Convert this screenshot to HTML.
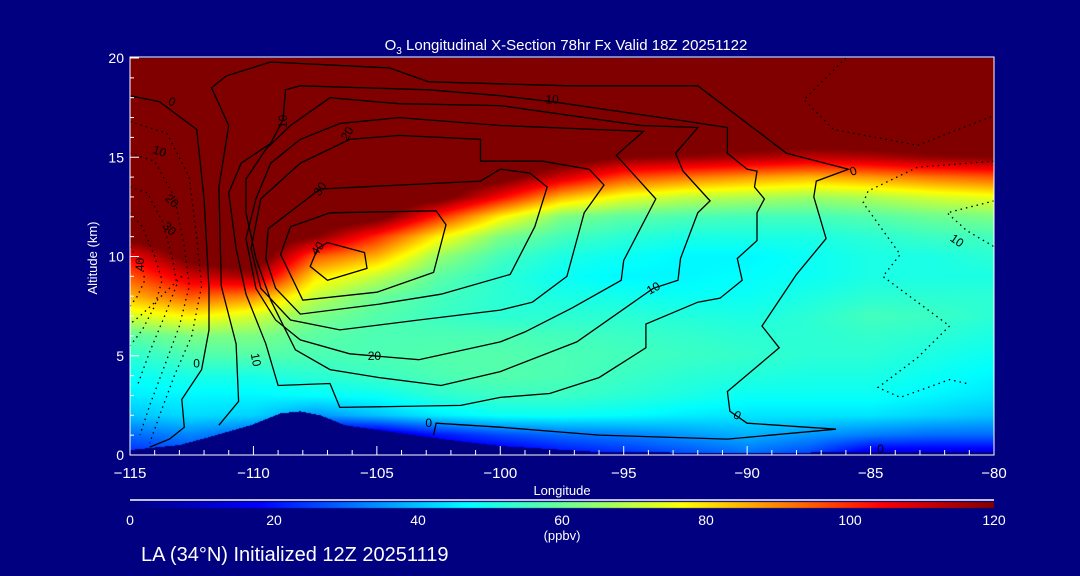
<!DOCTYPE html>
<html><head><meta charset="utf-8"><style>
html,body{margin:0;padding:0;background:#000080;}
#wrap{position:relative;width:1080px;height:576px;overflow:hidden;background:#000080;font-family:"Liberation Sans",sans-serif;color:#fff;}
canvas{position:absolute;left:0;top:0;}
svg{position:absolute;left:0;top:0;}
</style></head><body>
<div id="wrap">
<canvas id="field" width="1080" height="576"></canvas>
<svg id="ov" width="1080" height="576"></svg>
</div>
<script>
// ---- data ----
const lons = [-115,-112.5,-110,-107.5,-105,-102.5,-100,-97.5,-95,-92.5,-90,-87.5,-85,-82.5,-80];
const alts = [0,1,2,3,4,5,6,7,8,9,10,11,12,13,14,15,16,17,18,19,20];
const o3_0  = [22,25,15,10,10,10,12,18,22,26,30,25,12,12,12];
const o3_1  = [30,33,28,10,10,20,26,30,32,35,38,35,32,30,30];
const o3_2  = [40,43,42,35,40,45,48,48,47,45,44,44,44,42,40];
const o3_3  = [45,46,46,47,48,52,54,54,52,50,48,48,48,46,44];
const o3_4  = [48,50,50,52,54,56,57,56,54,52,51,50,50,48,46];
const o3_5  = [52,56,57,56,56,57,57,56,55,54,53,52,52,50,48];
const o3_6  = [58,62,62,58,56,56,56,55,54,53,52,52,53,52,50];
const o3_7  = [72,78,72,62,57,54,52,52,52,51,50,52,55,54,52];
const o3_8  = [85,95,90,70,60,55,52,50,49,48,48,50,52,52,52];
const o3_9  = [95,110,115,80,70,58,52,48,46,46,47,48,50,50,50];
const o3_10 = [105,125,130,95,85,65,55,50,48,46,46,48,50,50,52];
const o3_11 = [125,130,130,120,100,78,62,55,52,50,50,50,52,54,55];
const o3_12 = [130,130,130,130,125,100,78,62,58,56,55,55,57,60,62];
const o3_13 = [130,130,130,130,130,125,105,85,75,70,68,66,68,72,75];
const o3_14 = [130,130,130,130,130,130,125,110,97,92,88,85,88,92,95];
const o3_15 = [130,130,130,130,130,130,130,128,120,118,115,112,114,118,120];
const o3_16 = [130,130,130,130,130,130,130,130,130,130,130,130,130,130,130];
const o3_17 = [130,130,130,130,130,130,130,130,130,130,130,130,130,130,130];
const o3_18 = [130,130,130,130,130,130,130,130,130,130,130,130,130,130,130];
const o3_19 = [130,130,130,130,130,130,130,130,130,130,130,130,130,130,130];
const o3_20 = [130,130,130,130,130,130,130,130,130,130,130,130,130,130,130];
const o3 = [o3_0,o3_1,o3_2,o3_3,o3_4,o3_5,o3_6,o3_7,o3_8,o3_9,o3_10,o3_11,o3_12,o3_13,o3_14,o3_15,o3_16,o3_17,o3_18,o3_19,o3_20];

const terrainLon = [-115,-113,-111.8,-110.1,-108.9,-108.1,-107.3,-106.3,-104.1,-102,-100,-96,-90,-85,-80];
const terrainAlt = [0.25,0.5,0.9,1.5,2.1,2.2,2.0,1.5,1.1,0.75,0.45,0.15,0.1,0.15,0.15];

const xTicks = [-115,-110,-105,-100,-95,-90,-85,-80];
const xTickLabels = ["\u2212115","\u2212110","\u2212105","\u2212100","\u221295","\u221290","\u221285","\u221280"];
const yTicks = [0,5,10,15,20];
const cbTicks = [0,20,40,60,80,100,120];

// solid contours [lon,alt]
const cA  = [[-115,18.1],[-113.8,17.8],[-112.3,16.4],[-112,12.9],[-111.8,8.4],[-111.8,6.3],[-112.1,4.3],[-112.9,2.8],[-112.8,1.4],[-113.4,0.8],[-114.2,0.4]];
const cB  = [[-111.4,1.5],[-110.6,2.7],[-110.7,5.6],[-111.3,8.5],[-111.4,13.5],[-111,16.6],[-111.7,18.5],[-111.1,19.1],[-109.3,19.8],[-104.5,19.5],[-102.9,18.8],[-97.2,18.6],[-92.0,18.6],[-88.4,15.2],[-85.9,14.4],[-87.2,13.8],[-87.3,13.0],[-86.8,10.9],[-88,9.1],[-89.4,6.5],[-88.7,5.4],[-90.8,3.2],[-90.7,2.2],[-90,1.6],[-86.4,1.3],[-90.8,0.8],[-96,1.0],[-100,1.4],[-102.6,1.6],[-102.7,1.0]];
const cZ1 = [[-100,18.1],[-97.9,17.8],[-92.4,16.8],[-90.8,16.5],[-90.8,15.2],[-90,14.4],[-89.6,14.3],[-89.7,13.5],[-89.3,12.9],[-89.6,12.2],[-89.6,10.8],[-90.4,9.9],[-90.2,8.8],[-91.1,7.9],[-92,7.7],[-94.1,6.6],[-94.1,5.4],[-96,3.9],[-98,3.1],[-100,2.9],[-101.6,2.5],[-106.5,2.4],[-106.9,3.6],[-109,3.5],[-109.5,5.6],[-110.3,8.1],[-110.7,10.4],[-111,13.2],[-110.5,14.7],[-109.3,15.7],[-108.8,16.9],[-108.7,18.4],[-108.1,18.6],[-102.9,18.4],[-100,18.1]];
const cZ2 = [[-100,4.2],[-96.9,5.7],[-93.8,8.4],[-92.8,8.8],[-92.7,9.9],[-92.0,12.2],[-91.5,12.8],[-92.6,14.3],[-92.9,15.2],[-92.0,16.5],[-94.3,16.6],[-100,17.6],[-104.1,17.7],[-106.9,18.0],[-108.5,16.6],[-109.5,15.4],[-110.3,13.9],[-110.3,12.2],[-109.9,9.9],[-109.3,7.8],[-108.7,6.3],[-108.3,5.3],[-106.9,4.3],[-104.9,3.9],[-102.4,3.5],[-100,4.2]];
const cZ3 = [[-100,5.7],[-99,6.2],[-97.1,7.4],[-95.1,8.8],[-95.0,9.8],[-93.7,12.9],[-95.3,15.1],[-94.2,16.3],[-100,16.6],[-104.1,17.0],[-106.5,16.7],[-108.1,15.9],[-109.3,14.7],[-109.9,12.9],[-110.3,10.9],[-109.9,8.4],[-109.1,6.8],[-108.1,5.8],[-106.1,5.1],[-103.3,4.8],[-100,5.7]];
const cR25 = [[-100,7.3],[-98.7,7.7],[-97.3,9.0],[-96.6,12.2],[-95.8,13.6],[-96.4,14.4],[-98.3,14.8],[-100.8,14.8],[-100.8,15.9],[-104.1,16.1],[-106.1,15.9],[-108.1,14.7],[-109.7,12.9],[-110.1,10.4],[-109.7,8.4],[-108.5,6.8],[-106.5,6.3],[-103.3,6.8],[-100,7.3]];
const cR30 = [[-109.5,9.9],[-109.4,11.4],[-107.3,13.4],[-100.8,13.8],[-100,14.4],[-98.8,14.2],[-98.1,13.5],[-98.6,11.5],[-99.6,9.1],[-102.4,8.1],[-104.9,7.6],[-108.1,7.1],[-109.1,8.4],[-109.5,9.9]];
const cR35 = [[-108.9,10.1],[-108.5,11.5],[-106.9,12.2],[-102.6,12.3],[-102.2,11.6],[-102.7,9.2],[-105,8.2],[-108,7.8],[-108.9,10.1]];
const cR40 = [[-107.0,10.7],[-105.5,10.2],[-105.4,9.4],[-107.0,8.8],[-107.7,9.5],[-107.4,10.4],[-107.0,10.7]];
const solidContours = [cA,cB,cZ1,cZ2,cZ3,cR25,cR30,cR35,cR40];

// dotted (negative) contours
const dD1 = [[-86.0,20],[-87.7,17.9],[-86.5,16.4],[-83.1,15.6],[-80.0,17.1]];
const dD2 = [[-80,14.8],[-83.1,14.5],[-85.1,13.3],[-85.3,12.7],[-83.8,10.1],[-84.5,9.0],[-81.8,6.5],[-83.1,4.9],[-84.7,3.4],[-83.8,2.9],[-81.8,3.8],[-81.1,3.6]];
const dD3 = [[-80,12.8],[-81.9,12.2],[-81.1,11.3],[-80,10.5]];
const dF1 = [[-115,16.8],[-113.5,16.2],[-112.6,14],[-112.3,11],[-112.1,8.5],[-112.5,6],[-113.2,4],[-113.8,2],[-114.2,0.6]];
const dF2 = [[-115,15.2],[-114,14.8],[-113.2,13],[-112.8,10.5],[-112.6,8.5],[-113,6.5],[-113.6,4.5],[-114.2,2.5],[-114.6,1]];
const dF3 = [[-115,13.5],[-114.3,13.2],[-113.7,11.8],[-113.3,10],[-113.1,8.6],[-113.6,7],[-114.2,5.2],[-114.7,3.5]];
const dF4 = [[-115,12.2],[-114.5,11.5],[-114,10],[-113.7,8.8],[-114,7.5],[-114.5,6.3],[-115,5.5]];
const dF5 = [[-115,10.5],[-114.5,9.5],[-114.4,8.8],[-114.7,8],[-115,7.5]];
const dF6 = [[-112.9,9.0],[-113.9,7.8],[-114.6,7.0],[-115,6.6]];
const dottedContours = [dD1,dD2,dD3,dF1,dF2,dF3,dF4,dF5,dF6];

const labelText = ["0","10","10","20","30","40","10","20","30","40","0","10","20","10","0","0","10","0","0"];
const labelLon  = [-113.3,-108.8,-97.9,-106.2,-107.3,-107.4,-113.8,-113.3,-113.4,-114.6,-112.3,-109.9,-105.1,-93.8,-85.7,-90.4,-81.5,-102.9,-84.6];
const labelAlt  = [17.8,16.8,17.9,16.2,13.4,10.4,15.3,12.8,11.4,9.6,4.6,4.8,5.0,8.4,14.3,2.0,10.8,1.6,0.3];
const labelRot  = [20,-90,0,-60,-55,-55,20,45,45,-90,0,80,0,-30,-20,30,35,0,0];

// ---- axes ----
const X0=130, X1=994, Y0=58, Y1=455;
const xs = lon => X0 + (lon+115)/35*(X1-X0);
const ys = a => Y1 - a/20*(Y1-Y0);

// colormap
const cstops=[[0,[0,0,128]],[0.15,[0,0,255]],[0.39,[0,255,255]],[0.52,[128,255,128]],[0.64,[255,255,0]],[0.87,[255,0,0]],[1,[128,0,0]]];
function cmap(v){let f=Math.max(0,Math.min(1,v/120));for(let i=1;i<cstops.length;i++){if(f<=cstops[i][0]){const a=cstops[i-1],b=cstops[i];const t=(f-a[0])/(b[0]-a[0]);return [0,1,2].map(k=>Math.round(a[1][k]+(b[1][k]-a[1][k])*t));}}return cstops[cstops.length-1][1];}
function interp(lon,alt){
  let i=0;while(i<lons.length-2&&lon>lons[i+1])i++;
  let j=0;while(j<alts.length-2&&alt>alts[j+1])j++;
  const tx=Math.max(0,Math.min(1,(lon-lons[i])/(lons[i+1]-lons[i])));
  const ty=Math.max(0,Math.min(1,(alt-alts[j])/(alts[j+1]-alts[j])));
  const a=o3[j][i],b=o3[j][i+1],c=o3[j+1][i],d=o3[j+1][i+1];
  return (a*(1-tx)+b*tx)*(1-ty)+(c*(1-tx)+d*tx)*ty;
}
function terr(lon){for(let i=1;i<terrainLon.length;i++){if(lon<=terrainLon[i]){const t=(lon-terrainLon[i-1])/(terrainLon[i]-terrainLon[i-1]);return terrainAlt[i-1]+(terrainAlt[i]-terrainAlt[i-1])*t;}}return terrainAlt[terrainAlt.length-1];}

const cv=document.getElementById('field');const ctx=cv.getContext('2d');
const W=X1-X0, H=Y1-Y0;
const img=ctx.createImageData(W,H);
for(let py=0;py<H;py++){const alt=20*(1-(py+0.5)/H);
  for(let px=0;px<W;px++){const lon=-115+35*(px+0.5)/W;
    let c = alt<terr(lon)?[0,0,128]:cmap(interp(lon,alt));
    const k=(py*W+px)*4;img.data[k]=c[0];img.data[k+1]=c[1];img.data[k+2]=c[2];img.data[k+3]=255;}}
ctx.putImageData(img,X0,Y0);
// colorbar
const cbImg=ctx.createImageData(W,6);
for(let px=0;px<W;px++){const c=cmap(120*px/W);for(let r=0;r<6;r++){const k=(r*W+px)*4;cbImg.data[k]=c[0];cbImg.data[k+1]=c[1];cbImg.data[k+2]=c[2];cbImg.data[k+3]=255;}}
ctx.putImageData(cbImg,X0,502);

// ---- SVG overlay ----
const NS='http://www.w3.org/2000/svg';const svg=document.getElementById('ov');
function el(tag,attrs,parent){const e=document.createElementNS(NS,tag);for(const k in attrs)e.setAttribute(k,attrs[k]);(parent||svg).appendChild(e);return e;}
const ptsStr = c => c.map(p=>xs(p[0]).toFixed(1)+','+ys(p[1]).toFixed(1)).join(' ');
const gC=el('g',{});


solidContours.forEach(c=>{const l=el('polyline',{points:ptsStr(c),fill:'none',stroke:'#000','stroke-width':'1.3'},gC);

});
dottedContours.forEach(c=>{const l=el('polyline',{points:ptsStr(c),fill:'none',stroke:'#000','stroke-width':'1.3','stroke-dasharray':'1.5 4'},gC);

});
labelText.forEach((t,i)=>{const x=xs(labelLon[i]),y=ys(labelAlt[i]);
const tx=el('text',{x:x,y:y+4,'font-size':'12','text-anchor':'middle',fill:'#000','font-family':'Liberation Sans, sans-serif',transform:`rotate(${labelRot[i]} ${x} ${y})`},gC);tx.textContent=t;

});

// frame
const fr=el('rect',{x:X0,y:Y0-1,width:W,height:H+1,fill:'none',stroke:'#fff','stroke-width':'1'});


// x ticks
for(let lon=-115;lon<=-80;lon++){const x=xs(lon);const major=xTicks.includes(lon);
 const t=el('line',{x1:x,x2:x,y1:Y1,y2:Y1-(major?9:5),stroke:'#fff','stroke-width':'1'});
 
 }
xTicks.forEach((v,i)=>{const t=el('text',{x:xs(v),y:478,'font-size':'15','text-anchor':'middle',fill:'#fff'});t.textContent=xTickLabels[i];
 
 });
for(let a=0;a<=20;a++){const y=ys(a);const major=yTicks.includes(a);
 const t=el('line',{x1:X0,x2:X0+(major?9:4),y1:y,y2:y,stroke:'#fff','stroke-width':'1'});
 
 }
yTicks.forEach(v=>{const t=el('text',{x:124,y:ys(v)+5,'font-size':'14','text-anchor':'end',fill:'#fff'});t.textContent=String(v);
 
 });
// colorbar line and labels
const cbl=el('line',{x1:X0,x2:X1,y1:500,y2:500,stroke:'#fff','stroke-width':'1.5'});


cbTicks.forEach(v=>{const t=el('text',{x:X0+v/120*W,y:525,'font-size':'14','text-anchor':'middle',fill:'#fff'});t.textContent=String(v);
 
 });
</script>
<svg width="1080" height="576" style="position:absolute;left:0;top:0;pointer-events:none">
<text x="566" y="50" font-size="15" text-anchor="middle" fill="#fff" font-family="Liberation Sans, sans-serif">O<tspan font-size="10" dy="4">3</tspan><tspan dy="-4"> Longitudinal X-Section 78hr  Fx Valid 18Z 20251122</tspan></text>
<text x="97" y="258" font-size="13" text-anchor="middle" fill="#fff" font-family="Liberation Sans, sans-serif" transform="rotate(-90 97 258)">Altitude (km)</text>
<text x="562" y="495" font-size="13" text-anchor="middle" fill="#fff" font-family="Liberation Sans, sans-serif">Longitude</text>
<text x="562" y="540" font-size="13" text-anchor="middle" fill="#fff" font-family="Liberation Sans, sans-serif">(ppbv)</text>
<text x="141" y="561" font-size="20" fill="#fff" font-family="Liberation Sans, sans-serif">LA (34°N) Initialized 12Z 20251119</text>
</svg>
</body></html>
